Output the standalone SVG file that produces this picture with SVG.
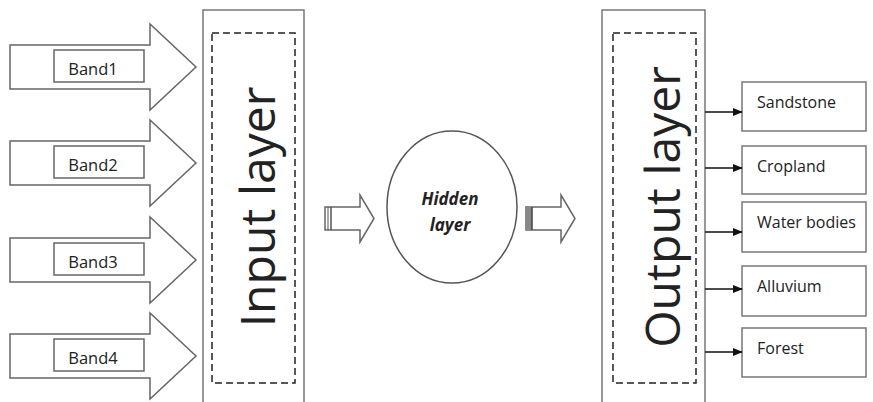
<svg xmlns="http://www.w3.org/2000/svg" width="873" height="402" viewBox="0 0 873 402">
<style>
.arrow{fill:#fff;stroke:#666;stroke-width:1.5;stroke-linejoin:miter}
.lbl{fill:#fff;stroke:#666;stroke-width:1.5}
.t{font-family:"Open Sans","Noto Sans",sans-serif;fill:#222}
.band{font-size:16.5px;text-anchor:middle}
.big{font-size:48px;text-anchor:middle}
.out{font-size:16px}
.hid{font-size:17px;font-weight:bold;font-style:italic;text-anchor:middle}
.box{fill:#fff;stroke:#777;stroke-width:1.5}
.dash{fill:none;stroke:#222;stroke-width:1.5;stroke-dasharray:7 4}
.conn{stroke:#111;stroke-width:1.5;fill:none}
</style>
<defs>
<marker id="ah" markerWidth="10" markerHeight="8" refX="9" refY="4" orient="auto" markerUnits="userSpaceOnUse">
<path d="M0,0 L10,4 L0,8 Z" fill="#111"/>
</marker>
</defs>
<rect width="873" height="402" fill="#fff"/>

<g id="band1">
<path class="arrow" d="M10,45 H150 V24 L196,67 L150,110 V89 H10 Z"/>
<rect class="lbl" x="54" y="50" width="90" height="32"/>
<text class="t band" x="93" y="75">Band1</text>
</g>
<g id="band2">
<path class="arrow" d="M10,141 H150 V120 L196,163 L150,206 V185 H10 Z"/>
<rect class="lbl" x="54" y="146" width="90" height="32"/>
<text class="t band" x="93" y="171">Band2</text>
</g>
<g id="band3">
<path class="arrow" d="M10,238 H150 V217 L196,260 L150,303 V282 H10 Z"/>
<rect class="lbl" x="54" y="243" width="90" height="32"/>
<text class="t band" x="93" y="268">Band3</text>
</g>
<g id="band4">
<path class="arrow" d="M10,334 H150 V313 L196,356 L150,399 V378 H10 Z"/>
<rect class="lbl" x="54" y="339" width="90" height="32"/>
<text class="t band" x="93" y="364">Band4</text>
</g>

<g id="input-layer">
<path class="box" d="M203,403 V10 H304 V403"/>
<rect class="dash" x="212" y="33" width="83" height="350"/>
<text class="t big" transform="translate(275,207) rotate(-90)">Input layer</text>
</g>

<g id="hidden-layer">
<ellipse cx="452" cy="207" rx="65" ry="76" fill="#fff" stroke="#555" stroke-width="1.5"/>
<text class="t hid" x="450" y="205">Hidden</text>
<text class="t hid" x="450" y="231">layer</text>
</g>

<g id="output-layer">
<path class="box" d="M602,403 V10 H705 V403"/>
<rect class="dash" x="613" y="33" width="83" height="350"/>
<text class="t big" transform="translate(680,207) rotate(-90)">Output layer</text>
</g>

<g id="sandstone">
<rect class="box" x="742" y="82" width="124" height="49"/>
<text class="t out" x="757" y="108">Sandstone</text>
</g>
<g id="cropland">
<rect class="box" x="742" y="146" width="124" height="48"/>
<text class="t out" x="757" y="172">Cropland</text>
</g>
<g id="water-bodies">
<rect class="box" x="742" y="202" width="124" height="50"/>
<text class="t out" x="757" y="228">Water bodies</text>
</g>
<g id="alluvium">
<rect class="box" x="742" y="266" width="124" height="50"/>
<text class="t out" x="757" y="292">Alluvium</text>
</g>
<g id="forest">
<rect class="box" x="742" y="328" width="124" height="49"/>
<text class="t out" x="757" y="354">Forest</text>
</g>

<g id="connectors">
<g>
<path class="arrow" d="M325,207 H360 V195 L374,218.5 L360,242 V230 H325 Z"/>
<line x1="328" y1="207" x2="328" y2="230" stroke="#555" stroke-width="1"/>
<line x1="331" y1="207" x2="331" y2="230" stroke="#555" stroke-width="1.5"/>
</g>
<g>
<path class="arrow" d="M526,207 H561 V195 L575,218.5 L561,242 V230 H526 Z"/>
<rect x="526" y="207" width="6" height="23" fill="#888"/>
<line x1="532" y1="207" x2="532" y2="230" stroke="#444" stroke-width="1.5"/>
</g>
<line class="conn" x1="705" y1="112" x2="742" y2="112" marker-end="url(#ah)"/>
<line class="conn" x1="705" y1="168" x2="742" y2="168" marker-end="url(#ah)"/>
<line class="conn" x1="705" y1="232" x2="742" y2="232" marker-end="url(#ah)"/>
<line class="conn" x1="705" y1="289" x2="742" y2="289" marker-end="url(#ah)"/>
<line class="conn" x1="705" y1="352" x2="742" y2="352" marker-end="url(#ah)"/>
</g>
</svg>
